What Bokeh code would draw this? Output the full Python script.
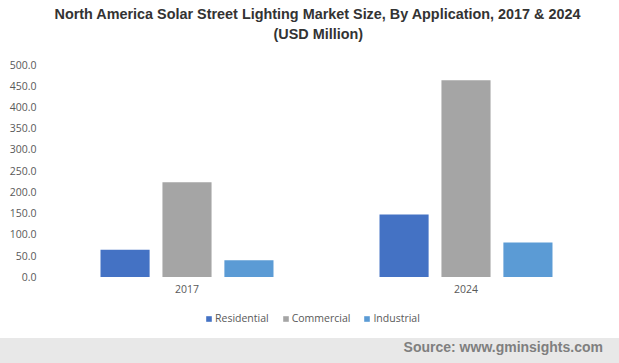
from bokeh.plotting import figure
from bokeh.models import (ColumnDataSource, FactorRange, Range1d, Legend, LegendItem,
                          NumeralTickFormatter, FixedTicker, Title, Div)
from bokeh.transform import dodge
from bokeh.layouts import column
from bokeh.embed import file_html
from bokeh.resources import INLINE

years = ["2017", "2024"]
residential = [64, 147]
commercial = [223, 463]
industrial = [39, 81]
series_names = ["Residential", "Commercial", "Industrial"]
colors = ["#4472C4", "#A5A5A5", "#5B9BD5"]
offsets = [-0.222, 0.0, 0.222]
y_ticks = [0, 50, 100, 150, 200, 250, 300, 350, 400, 450, 500]

p = figure(x_range=FactorRange(*years, range_padding=0), y_range=Range1d(-145, 500),
           width=619, height=338, output_backend="svg", toolbar_location=None,
           title=None)
p.min_border_left = 47
p.min_border_right = 14
p.min_border_top = 64
p.min_border_bottom = 0
p.outline_line_color = None
p.xgrid.visible = False
p.ygrid.visible = False
p.background_fill_color = "white"
p.border_fill_color = "white"

spacer = Title(text=" ", text_font_size="1px", standoff=20)
t2 = Title(text="(USD Million)", align="left", text_font="Liberation Sans",
           text_font_size="14.4px", text_font_style="bold", text_color="#333333",
           standoff=0, offset=226)
t1 = Title(text="North America Solar Street Lighting Market Size, By Application, 2017 & 2024",
           align="left", text_font="Liberation Sans", text_font_size="14.4px",
           text_font_style="bold", text_color="#333333", standoff=4, offset=7)
p.add_layout(spacer, "above")
p.add_layout(t2, "above")
p.add_layout(t1, "above")

items = []
for name, vals, col, off in zip(series_names, [residential, commercial, industrial], colors, offsets):
    src = ColumnDataSource(dict(year=years, value=vals))
    r = p.vbar(x=dodge("year", off, range=p.x_range), top="value", width=0.176,
               source=src, fill_color=col, line_color=None)
    items.append(LegendItem(label=name, renderers=[r]))

p.yaxis.ticker = FixedTicker(ticks=y_ticks)
p.yaxis.formatter = NumeralTickFormatter(format="0.0")
p.xaxis.fixed_location = 0
for ax in (p.xaxis, p.yaxis):
    ax.axis_line_color = None
    ax.major_tick_line_color = None
    ax.minor_tick_line_color = None
    ax.major_tick_out = 0
    ax.major_tick_in = 0
    ax.major_label_text_font = "Open Sans"
    ax.major_label_text_font_size = "10.5px"
    ax.major_label_text_color = "#595959"
p.yaxis.major_label_standoff = 11
p.xaxis.major_label_standoff = 8

legend = Legend(items=items, orientation="horizontal", location=(158, 13),
                glyph_width=7, glyph_height=7, label_standoff=3, spacing=13,
                padding=0, margin=0, border_line_color=None, background_fill_alpha=0,
                label_text_font="Open Sans", label_text_font_size="10.5px",
                label_text_color="#595959")
p.add_layout(legend, "center")

src_div = Div(text='<div style="width:603px;text-align:right;line-height:18px;'
                   'font-family:\'Liberation Sans\';font-weight:bold;font-size:14px;color:#7F7F7F;">'
                   'Source: www.gminsights.com</div>',
              width=619, height=25, margin=0, styles={"background-color": "#E8E8E8"})

layout = column(p, src_div, spacing=0)
open("out.html", "w").write(file_html(layout, INLINE))
